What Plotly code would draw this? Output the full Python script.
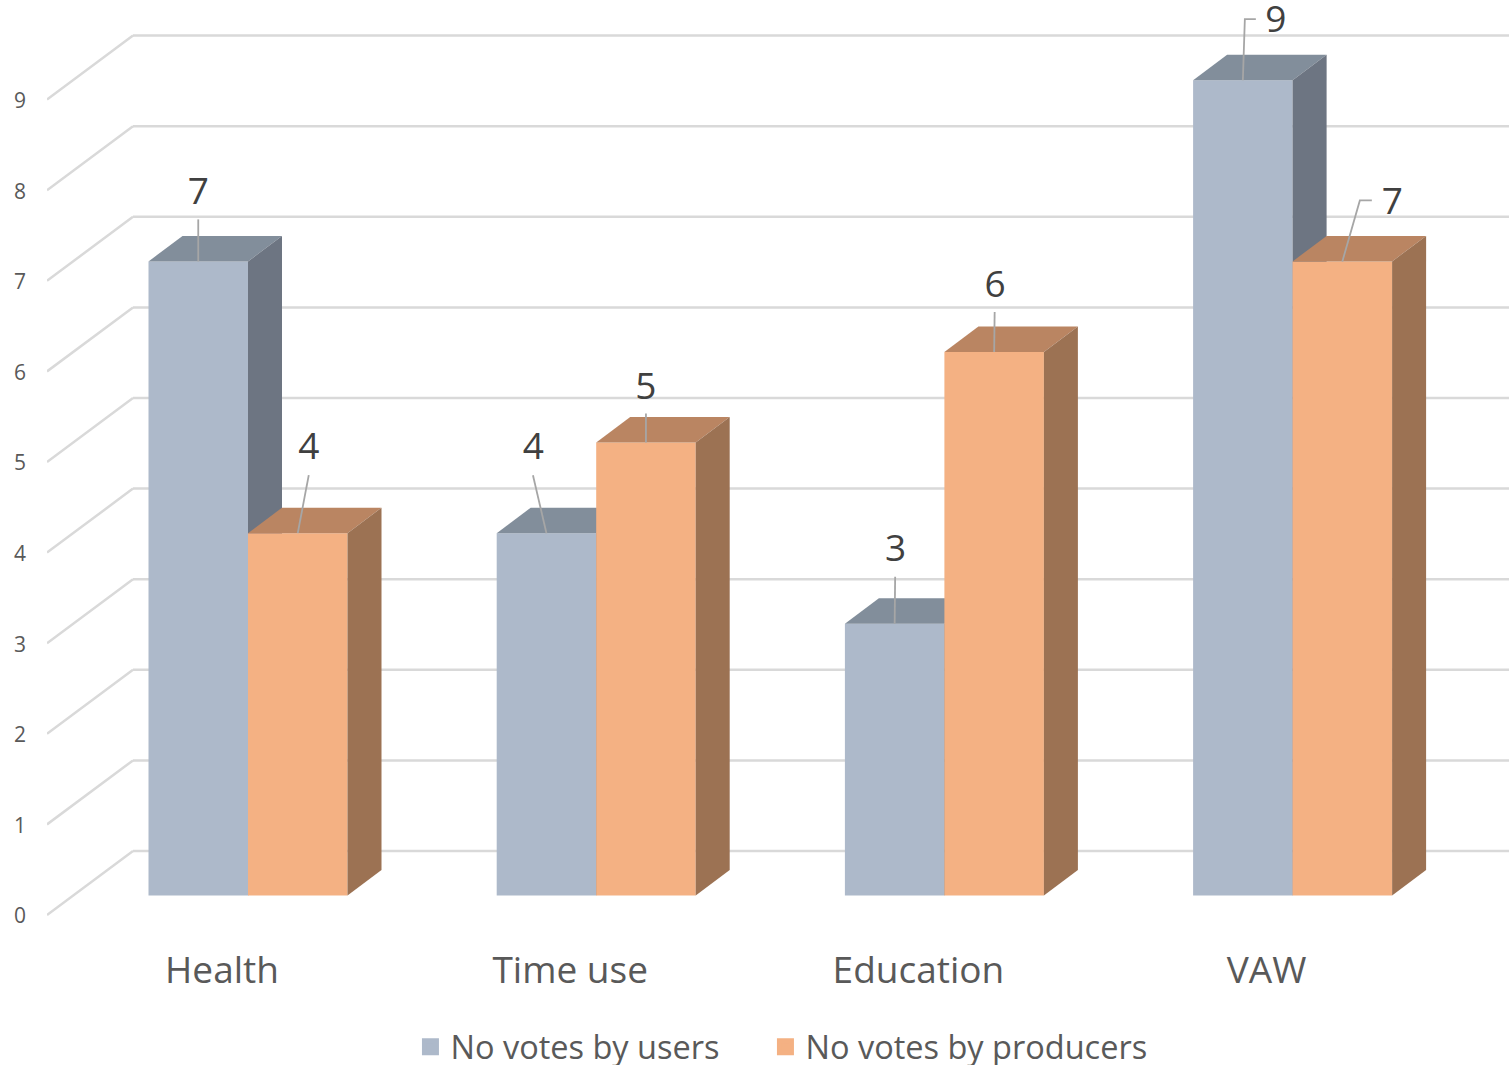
import plotly.graph_objects as go

categories = ["Health", "Time use", "Education", "VAW"]
votes_users = [7, 4, 3, 9]
votes_producers = [4, 5, 6, 7]
axis_ticks = [0, 1, 2, 3, 4, 5, 6, 7, 8, 9]

# pixel scale of the drawing, used only to express the 3D offset in axis units
W, H = 1509, 1065
PLOT_L, PLOT_B = 47, 938
X0_PX, CAT_PX = 248.0, 348.2
Y0_PX, UNIT_PX = 895.6, 90.6


def dx(px):
    return px / CAT_PX


def dy(px):
    return px / UNIT_PX


BAR_W = dx(99.5)
DEPTH_X, DEPTH_Y = dx(34), dy(25.5)
xs = list(range(len(categories)))

x_range = [(PLOT_L - X0_PX) / CAT_PX, (W - X0_PX) / CAT_PX]
y_range = [(Y0_PX - PLOT_B) / UNIT_PX, Y0_PX / UNIT_PX]

FRONT = {"u": "#ADB9CA", "p": "#F4B183"}
TOP = {"u": "#828E9B", "p": "#BA8562"}
SIDE = {"u": "#6D7582", "p": "#9C7253"}
GRID = "#D9D9D9"
LEADER = "#A6A6A6"


def poly(xv, yv, color, yaxis):
    return go.Scatter(x=xv, y=yv, mode="lines", fill="toself", fillcolor=color,
                      line=dict(width=0, color=color), hoverinfo="skip",
                      showlegend=False, yaxis=yaxis)


fig = go.Figure()


def add_series(name, key, values, left_of_center, yaxis, legend_id):
    offset = -BAR_W if left_of_center else 0
    fig.add_trace(go.Bar(x=xs, y=values, width=BAR_W, offset=offset, name=name,
                         showlegend=False,
                         marker=dict(color=FRONT[key], line=dict(width=0)), yaxis=yaxis))
    # legend swatch only: the stroke enlarges the legend square
    fig.add_trace(go.Bar(x=[None], y=[None], name=name, showlegend=True, legend=legend_id,
                         marker=dict(color=FRONT[key], line=dict(width=12, color=FRONT[key])),
                         yaxis=yaxis))
    for x, v in zip(xs, values):
        l = x + offset
        r = l + BAR_W
        fig.add_trace(poly([l, r, r + DEPTH_X, l + DEPTH_X, l],
                           [v, v, v + DEPTH_Y, v + DEPTH_Y, v], TOP[key], yaxis))
        fig.add_trace(poly([r, r + DEPTH_X, r + DEPTH_X, r, r],
                           [0, DEPTH_Y, v + DEPTH_Y, v, 0], SIDE[key], yaxis))


# users live in the lower subplot, producers in the overlay so they occlude correctly
add_series("No votes by users", "u", votes_users, True, "y", "legend")
add_series("No votes by producers", "p", votes_producers, False, "y2", "legend2")

# leader lines: pixel bends measured from the top centre of each bar front
leaders_users = [[(0, -42)], [(-13.5, -58)], [(0.5, -47)], [(2, -61), (13, -61)]]
leaders_producers = [[(11, -58)], [(0, -29)], [(0.5, -40)], [(17.5, -61), (29.5, -61)]]
label_offset_users = [(0, -71), (-13, -87), (1, -76), (33, -61)]
label_offset_producers = [(11, -87), (0, -57), (1, -68), (50, -61)]
LABEL_DROP = 4

for values, sign, leaders, offsets in (
    (votes_users, -1, leaders_users, label_offset_users),
    (votes_producers, 1, leaders_producers, label_offset_producers),
):
    for x, v, bend, off in zip(xs, values, leaders, offsets):
        cx = x + sign * BAR_W / 2
        fig.add_trace(go.Scatter(
            x=[cx] + [cx + dx(p[0]) for p in bend],
            y=[v] + [v - dy(p[1]) for p in bend],
            mode="lines", line=dict(color=LEADER, width=1.8),
            hoverinfo="skip", showlegend=False, yaxis="y2"))
        fig.add_trace(go.Scatter(
            x=[cx + dx(off[0])], y=[v - dy(off[1] + LABEL_DROP)], mode="text", text=[str(v)],
            textposition="middle center", hoverinfo="skip", showlegend=False,
            textfont=dict(family="Open Sans", size=37, color="#404040"), yaxis="y2",
            cliponaxis=False))

# 3D wall and floor gridlines
FRONT_SHIFT = dy(-19.4)
BACK_SHIFT = dy(44.6)
TICK_SHIFT = dy(-20.4)
BACK_X = (133 - X0_PX) / CAT_PX
for t in axis_ticks:
    line = dict(color=GRID, width=2.5)
    fig.add_shape(type="line", layer="below", xref="x", yref="y", line=line,
                  x0=x_range[0], y0=t + FRONT_SHIFT, x1=BACK_X, y1=t + BACK_SHIFT)
    fig.add_shape(type="line", layer="below", xref="x", yref="y", line=line,
                  x0=BACK_X, y0=t + BACK_SHIFT, x1=x_range[1], y1=t + BACK_SHIFT)

legend_style = dict(orientation="h", xref="container", yref="container",
                    y=1 - 1047 / H, xanchor="left", yanchor="middle",
                    font=dict(size=32.5, color="#595959"), bgcolor="rgba(0,0,0,0)")

fig.update_layout(
    width=W, height=H, margin=dict(l=PLOT_L, r=0, t=0, b=H - PLOT_B),
    paper_bgcolor="white", plot_bgcolor="white", barmode="overlay",
    font=dict(family="Open Sans", color="#595959"),
    xaxis=dict(range=x_range, tickmode="array",
               tickvals=[x - dx(26) for x in xs], ticktext=categories,
               showgrid=False, zeroline=False, showline=False, ticks="",
               tickfont=dict(size=37, color="#595959"), ticklabelstandoff=7),
    yaxis=dict(range=y_range, tickmode="array",
               tickvals=[t + TICK_SHIFT for t in axis_ticks],
               ticktext=[str(t) for t in axis_ticks],
               showgrid=False, zeroline=False, showline=False, ticks="",
               tickfont=dict(size=21, color="#595959"), ticklabelstandoff=20),
    yaxis2=dict(range=y_range, overlaying="y", visible=False),
    legend=dict(x=0.272, **legend_style),
    legend2=dict(x=0.272 + 355 / W, **legend_style),
)

fig.write_html("out.html", config={"displayModeBar": False},
               post_script="document.body.style.margin='0';")
